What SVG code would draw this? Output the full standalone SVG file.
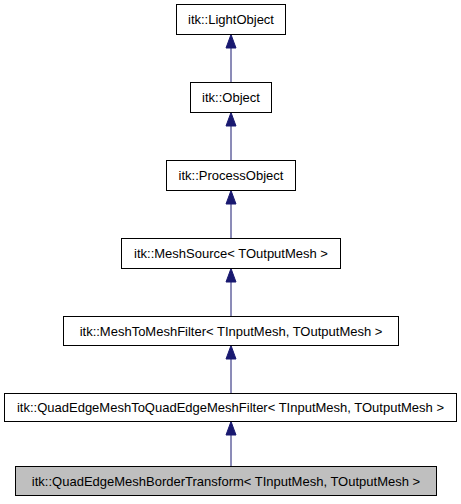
<svg xmlns="http://www.w3.org/2000/svg" width="461" height="504" viewBox="0 0 461 504">
<defs>
<style>
.box{fill:#ffffff;stroke:#000000;stroke-width:1}
.cur{fill:#bfbfbf;stroke:#000000;stroke-width:1}
.lbl{font-family:"Liberation Sans",Arial,sans-serif;font-size:13px;fill:#000000;text-anchor:middle}
.edge{stroke:#191970;stroke-width:1;fill:none}
.head{fill:#191970;stroke:#191970;stroke-width:1}
</style>
</defs>
<rect width="461" height="504" fill="#ffffff"/>
<g id="edges">
<line class="edge" x1="231" y1="82.5" x2="231" y2="48"/>
<polygon class="head" points="231,34.5 226,48 236,48"/>
<line class="edge" x1="231" y1="160.5" x2="231" y2="126"/>
<polygon class="head" points="231,112.5 226,126 236,126"/>
<line class="edge" x1="231" y1="238.5" x2="231" y2="204"/>
<polygon class="head" points="231,190.5 226,204 236,204"/>
<line class="edge" x1="231" y1="316.5" x2="231" y2="282"/>
<polygon class="head" points="231,268.5 226,282 236,282"/>
<line class="edge" x1="231" y1="393.5" x2="231" y2="359"/>
<polygon class="head" points="231,345.5 226,359 236,359"/>
<line class="edge" x1="231" y1="466.5" x2="231" y2="435"/>
<polygon class="head" points="231,421.5 226,435 236,435"/>
</g>
<g id="n1"><rect class="box" x="176.5" y="4.5" width="109" height="30"/><text class="lbl" x="231" y="24">itk::LightObject</text></g>
<g id="n2"><rect class="box" x="190.5" y="82.5" width="81" height="30"/><text class="lbl" x="231" y="102">itk::Object</text></g>
<g id="n3"><rect class="box" x="166.5" y="160.5" width="129" height="30"/><text class="lbl" x="231" y="180">itk::ProcessObject</text></g>
<g id="n4"><rect class="box" x="121.5" y="238.5" width="219" height="30"/><text class="lbl" x="231" y="258">itk::MeshSource&lt; TOutputMesh &gt;</text></g>
<g id="n5"><rect class="box" x="63.5" y="316.5" width="335" height="29"/><text class="lbl" x="231" y="335.5">itk::MeshToMeshFilter&lt; TInputMesh, TOutputMesh &gt;</text></g>
<g id="n6"><rect class="box" x="4.5" y="393.5" width="452" height="28"/><text class="lbl" x="230.5" y="412">itk::QuadEdgeMeshToQuadEdgeMeshFilter&lt; TInputMesh, TOutputMesh &gt;</text></g>
<g id="n7"><rect class="cur" x="15.5" y="466.5" width="421" height="29"/><text class="lbl" x="226" y="485.5">itk::QuadEdgeMeshBorderTransform&lt; TInputMesh, TOutputMesh &gt;</text></g>
</svg>
